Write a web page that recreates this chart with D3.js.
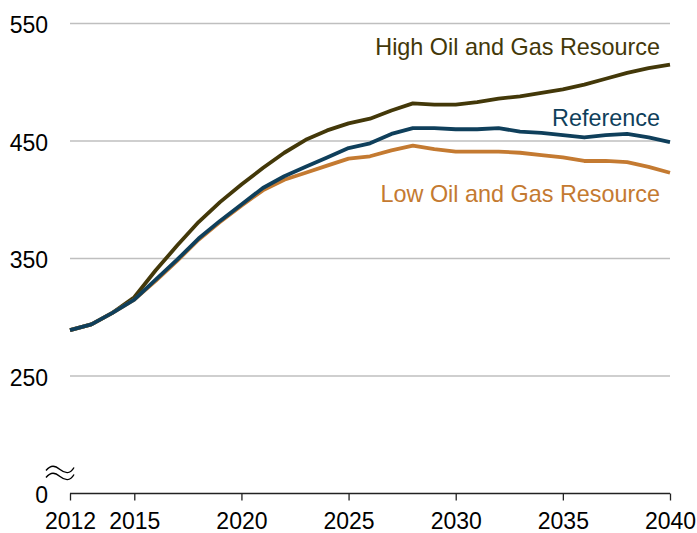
<!DOCTYPE html>
<html>
<head>
<meta charset="utf-8">
<script src="https://cdn.jsdelivr.net/npm/d3@7"></script>
<style>
  body { margin: 0; background: #fff; }
  text { font-family: "Liberation Sans", Arial, sans-serif; }
</style>
</head>
<body>
<svg class="chart"></svg>
<script>
const years = d3.range(2012, 2041)

const high = [289, 294, 304, 317, 340, 361, 381, 398, 413, 427, 440, 451, 459, 465,
              469, 476, 482, 481, 481, 483, 486, 488, 491, 494, 498, 503, 508, 512, 515]
const reference = [289, 294, 304, 315, 332, 349, 367, 382, 396, 410, 420, 428, 436, 444,
                   448, 456, 461, 461, 460, 460, 461, 458, 457, 455, 453, 455, 456, 453, 449]
const low = [289, 294, 304, 315, 331, 348, 366, 381, 395, 408, 417, 423, 429, 435,
             437, 442, 446, 443, 441, 441, 441, 440, 438, 436, 433, 433, 432, 428, 423]

const xTicks = [2012, 2015, 2020, 2025, 2030, 2035, 2040]
const yTicks = [250, 350, 450, 550]
const seriesNames = ["High Oil and Gas Resource", "Reference", "Low Oil and Gas Resource"]

const width = 697, height = 533

var chart = d3.select(".chart")
    .attr("width", width)
    .attr("height", height)

var x = d3.scaleLinear().domain([2012, 2040]).range([70, 670])
// axis baseline sits where 150 would be; labelled "0" with a break mark
var y = d3.scaleLinear().domain([150, 550]).range([493.5, 23.5])

// gridlines
chart.append("g")
  .selectAll("line")
  .data(yTicks)
  .enter()
  .append("line")
    .attr("x1", x(2012))
    .attr("x2", x(2040))
    .attr("y1", d => y(d))
    .attr("y2", d => y(d))
    .attr("stroke", "#bfbfbf")
    .attr("stroke-width", 1.3)

// y labels
chart.append("g")
  .selectAll("text")
  .data(yTicks)
  .enter()
  .append("text")
    .attr("x", 48)
    .attr("y", d => y(d) + 9.8)
    .attr("text-anchor", "end")
    .style("font-size", "23px")
    .attr("fill", "#000")
    .text(d => d)

chart.append("text")
    .attr("x", 48)
    .attr("y", y(150) + 9.8)
    .attr("text-anchor", "end")
    .style("font-size", "23px")
    .text("0")

// break symbol
var bx = x(2012) - 24, by = y(150) - 27
chart.append("g")
    .attr("transform", "translate(" + bx + "," + by + ")")
  .selectAll("path")
  .data([0, 7])
  .enter()
  .append("path")
    .attr("d", d => "M0," + (d + 4) + " C5,"  + (d - 2) + " 9," + (d - 1) + " 14," + (d + 3) +
                    " S24," + (d + 8) + " 28," + (d + 1))
    .attr("fill", "none")
    .attr("stroke", "#000")
    .attr("stroke-width", 1.4)

// x axis
var xAxis = chart.append("g")
    .attr("transform", "translate(0," + y(150) + ")")
    .call(d3.axisBottom(x).tickValues(xTicks).tickFormat(d3.format("d")).tickSize(7).tickPadding(12))

xAxis.select(".domain")
    .attr("d", "M" + x(2012) + ",0H" + x(2040))
    .attr("stroke", "#222")
    .attr("stroke-width", 1.5)
xAxis.selectAll(".tick line").attr("stroke", "#222").attr("stroke-width", 1.3)
xAxis.selectAll(".tick text")
    .style("font-size", "23px")
    .style("font-family", "'Liberation Sans', Arial, sans-serif")
    .attr("fill", "#000")

// lines
var line = d3.line()
    .x((d, i) => x(years[i]))
    .y(d => y(d))

var series = [
  { name: seriesNames[0], values: high, color: "#433809" },
  { name: seriesNames[2], values: low, color: "#c47a31" },
  { name: seriesNames[1], values: reference, color: "#0f3f5b" }
]

chart.append("g")
  .selectAll("path")
  .data(series)
  .enter()
  .append("path")
    .attr("d", d => line(d.values))
    .attr("fill", "none")
    .attr("stroke", d => d.color)
    .attr("stroke-width", 3.8)
    .attr("stroke-linejoin", "round")

// series labels
var labelY = { "High Oil and Gas Resource": 55, "Reference": 126, "Low Oil and Gas Resource": 202 }
chart.append("g")
  .selectAll("text")
  .data(series)
  .enter()
  .append("text")
    .attr("x", 660)
    .attr("y", d => labelY[d.name])
    .attr("text-anchor", "end")
    .attr("fill", d => d.color)
    .style("font-size", "23.4px")
    .text(d => d.name)
</script>
</body>
</html>
